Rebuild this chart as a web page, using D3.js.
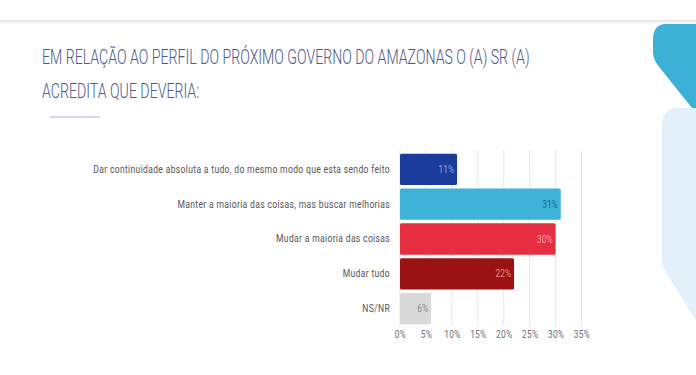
<!DOCTYPE html>
<html><head><meta charset="utf-8">
<script src="https://cdn.jsdelivr.net/npm/d3@7"></script>
<style>
html,body{margin:0;padding:0;background:#fff;}
svg{display:block;}
</style></head>
<body>
<script>
const categories = [
  "Dar continuidade absoluta a tudo, do mesmo modo que esta sendo feito",
  "Manter a maioria das coisas, mas buscar melhorias",
  "Mudar a maioria das coisas",
  "Mudar tudo",
  "NS/NR"
];
const values = [11, 31, 30, 22, 6];
const barColors = ["#1b3c9c", "#3db3da", "#e62e40", "#9b1212", "#d9d9d9"];
const valueLabelColors = ["#8ea3dc", "#1d6a8c", "#f6a3ab", "#ec8b8b", "#8a8a8a"];
const tickValues = [0, 5, 10, 15, 20, 25, 30, 35];
const titleLines = ["EM RELAÇÃO AO PERFIL DO PRÓXIMO GOVERNO DO AMAZONAS O (A) SR (A)", "ACREDITA QUE DEVERIA:"];

const W = 696, H = 375;
const svg = d3.select("body").append("svg").attr("width", W).attr("height", H);

// background / header
svg.append("rect").attr("x",0).attr("y",0).attr("width",W).attr("height",H).attr("fill","#fefefe");
svg.append("rect").attr("x",0).attr("y",0).attr("width",W).attr("height",20).attr("fill","#ffffff");
svg.append("rect").attr("x",0).attr("y",20).attr("width",W).attr("height",1.5).attr("fill","#e4e4e4");
svg.append("rect").attr("x",0).attr("y",21.5).attr("width",W).attr("height",2).attr("fill","#f2f2f2");

// decorative shapes on the right
svg.append("path")
  .attr("d","M696,24 L666,24 Q653,24 653,40 L653,52 Q653,60 660,68 L696,113 Z")
  .attr("fill","#3cb0d5");
svg.append("path")
  .attr("d","M696,108 L678,108 Q662,108 662,126 L662,262 Q662,268 667,274 L696,321 Z")
  .attr("fill","#e2f1f9");

const fontStack = "Roboto, 'Noto Sans', sans-serif";

// squeeze a text horizontally around an anchor x (in its local coordinates)
function squeeze(sel, factor, anchorX) {
  sel.attr("transform", `translate(${anchorX},0) scale(${factor},1) translate(${-anchorX},0)`);
}

// title
const title = svg.append("g").attr("fill","#4b5b88")
  .style("font-family", fontStack).style("font-size","21px").style("font-weight","300");
const t1 = title.append("text").attr("x",42).attr("y",64.5).text(titleLines[0]);
const t2 = title.append("text").attr("x",42).attr("y",98.5).text(titleLines[1]);
const tf = 488 / t1.node().getComputedTextLength();
squeeze(t1, tf, 42);
squeeze(t2, tf, 42);
svg.append("line").attr("x1",50).attr("x2",100).attr("y1",117).attr("y2",117)
  .attr("stroke","#a9b6d6").attr("stroke-width",1.2);

// chart
const x = d3.scaleLinear().domain([0,35]).range([400,581.5]);
const y = d3.scaleBand().domain(categories).range([153,325]).paddingInner(0.1).paddingOuter(0.02);

// grid
svg.append("g").selectAll("line").data(tickValues).join("line")
  .attr("x1",d=>x(d)).attr("x2",d=>x(d)).attr("y1",150).attr("y2",326)
  .attr("stroke","#e7e7e7").attr("stroke-width",1);

// bars
svg.append("g").selectAll("rect").data(values).join("rect")
  .attr("x",x(0)).attr("y",(d,i)=>y(categories[i]))
  .attr("width",d=>x(d)-x(0)).attr("height",y.bandwidth())
  .attr("rx",1.5)
  .attr("fill",(d,i)=>barColors[i]);

// value labels
const smallF = 0.8;
svg.append("g").selectAll("text").data(values).join("text")
  .attr("x",d=>x(d)-3).attr("y",(d,i)=>y(categories[i])+y.bandwidth()/2)
  .attr("dy","0.35em").attr("text-anchor","end")
  .style("font-family",fontStack).style("font-size","10.5px")
  .attr("fill",(d,i)=>valueLabelColors[i])
  .text(d=>d+"%")
  .each(function(d){ squeeze(d3.select(this), smallF, x(d)-3); });

// category axis labels
const yAxis = d3.axisLeft(y).tickSize(0).tickPadding(10);
const ya = svg.append("g").attr("transform","translate(400,0)").call(yAxis);
ya.select(".domain").remove();
const labs = ya.selectAll("text").style("font-family",fontStack).style("font-size","10.5px")
  .attr("fill","#555").style("letter-spacing","0.4px");
const lf = 297 / labs.nodes()[0].getComputedTextLength();
labs.each(function(){ squeeze(d3.select(this), lf, -10); });

// x axis tick labels
const xAxis = d3.axisBottom(x).tickValues(tickValues).tickSize(0).tickPadding(0).tickFormat(d=>d+"%");
const xa = svg.append("g").attr("transform","translate(0,331)").call(xAxis);
xa.select(".domain").remove();
xa.selectAll("text").style("font-family",fontStack).style("font-size","10.5px")
  .attr("fill","#707070").style("letter-spacing","0.3px")
  .each(function(){ squeeze(d3.select(this), smallF, 0); });
</script>
</body></html>
